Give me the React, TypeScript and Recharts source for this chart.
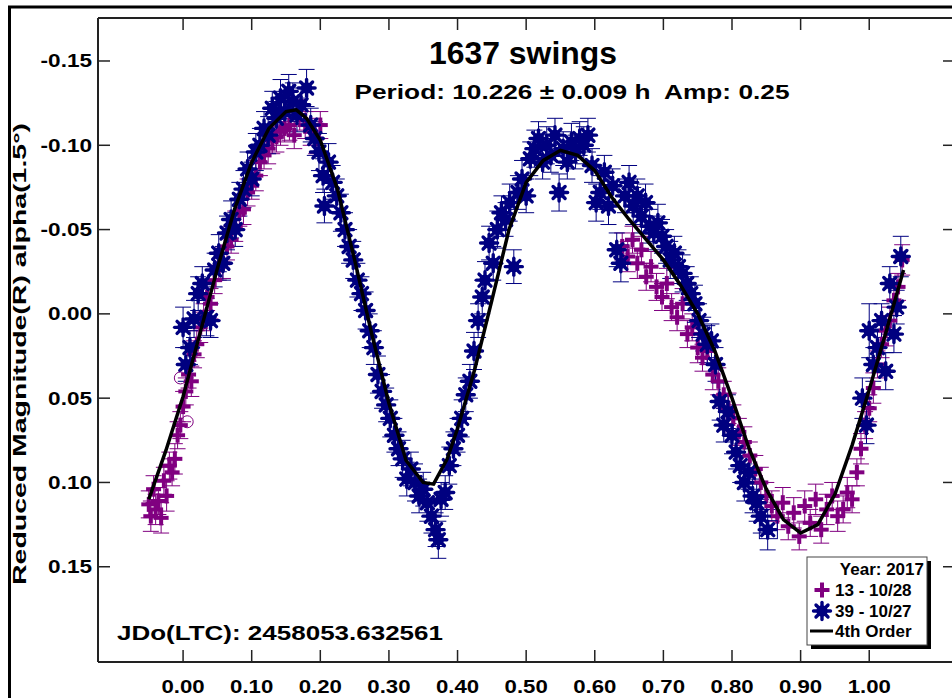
import React from "react";
import { ScatterChart, Scatter, XAxis, YAxis, ErrorBar } from "recharts";

// phase, reduced mag, error  (13 - 10/28)
const PURPLE_1028: [number, number, number][] = [
  [-0.05, 0.113, 0.008], [-0.047, 0.12, 0.009], [-0.043, 0.104, 0.008], [-0.04, 0.116, 0.009],
  [-0.036, 0.111, 0.008], [-0.032, 0.121, 0.009], [-0.028, 0.099, 0.008], [-0.024, 0.108, 0.009],
  [-0.02, 0.09, 0.008], [-0.016, 0.094, 0.008], [-0.012, 0.086, 0.009], [-0.008, 0.072, 0.008],
  [-0.004, 0.066, 0.008], [0.0, 0.055, 0.009], [0.004, 0.046, 0.008], [0.008, 0.036, 0.008],
  [0.012, 0.04, 0.009], [0.016, 0.024, 0.008], [0.02, 0.018, 0.008], [0.025, 0.008, 0.009],
  [0.03, 0.002, 0.008], [0.035, -0.01, 0.008], [0.04, -0.006, 0.009], [0.046, -0.02, 0.008],
  [0.052, -0.028, 0.008], [0.058, -0.03, 0.009], [0.064, -0.04, 0.008], [0.07, -0.044, 0.008],
  [0.076, -0.052, 0.009], [0.082, -0.06, 0.008], [0.088, -0.062, 0.009], [0.094, -0.072, 0.008],
  [0.1, -0.076, 0.008], [0.106, -0.082, 0.009], [0.112, -0.09, 0.008], [0.118, -0.094, 0.008],
  [0.124, -0.098, 0.009], [0.13, -0.103, 0.008], [0.136, -0.105, 0.009], [0.142, -0.108, 0.008],
  [0.148, -0.11, 0.008], [0.155, -0.112, 0.009], [0.162, -0.106, 0.008], [0.17, -0.118, 0.009],
  [0.178, -0.112, 0.008], [0.186, -0.108, 0.008], [0.194, -0.104, 0.009], [0.2, -0.112, 0.008],
  [0.64, -0.04, 0.008], [0.648, -0.034, 0.009], [0.655, -0.044, 0.008], [0.662, -0.03, 0.009],
  [0.668, -0.038, 0.008], [0.675, -0.022, 0.008], [0.682, -0.028, 0.009], [0.69, -0.016, 0.008],
  [0.698, -0.01, 0.008], [0.705, -0.018, 0.009], [0.712, -0.004, 0.008], [0.72, 0.002, 0.008],
  [0.728, -0.006, 0.009], [0.735, 0.012, 0.008], [0.742, 0.008, 0.008], [0.75, 0.02, 0.009],
  [0.757, 0.026, 0.008], [0.764, 0.022, 0.008], [0.772, 0.036, 0.009], [0.78, 0.04, 0.008],
  [0.788, 0.048, 0.008], [0.795, 0.056, 0.009], [0.802, 0.062, 0.008], [0.81, 0.07, 0.008],
  [0.818, 0.076, 0.009], [0.826, 0.084, 0.008], [0.834, 0.092, 0.008], [0.842, 0.1, 0.009],
  [0.85, 0.108, 0.008], [0.858, 0.114, 0.009], [0.866, 0.12, 0.008], [0.874, 0.112, 0.009],
  [0.882, 0.126, 0.008], [0.89, 0.118, 0.009], [0.898, 0.132, 0.008], [0.906, 0.114, 0.009],
  [0.914, 0.124, 0.008], [0.922, 0.11, 0.009], [0.93, 0.128, 0.008], [0.938, 0.116, 0.009],
  [0.946, 0.108, 0.008], [0.954, 0.12, 0.009], [0.962, 0.116, 0.008], [0.968, 0.106, 0.009],
  [0.975, 0.11, 0.008], [0.982, 0.094, 0.008], [0.988, 0.08, 0.009], [0.994, 0.066, 0.008],
  [1.0, 0.056, 0.008], [1.006, 0.044, 0.009], [1.012, 0.03, 0.008], [1.018, 0.018, 0.008],
  [1.024, 0.01, 0.009], [1.03, 0.004, 0.008], [1.036, -0.008, 0.009], [1.042, -0.016, 0.008],
  [1.048, -0.032, 0.009],
];

// phase, reduced mag, error  (39 - 10/27)
const NAVY_1027: [number, number, number][] = [
  [0.0, 0.008, 0.012], [0.004, 0.03, 0.01], [0.01, 0.02, 0.01], [0.016, 0.003, 0.011],
  [0.022, -0.012, 0.01], [0.028, -0.018, 0.01], [0.034, 0.002, 0.011], [0.04, 0.004, 0.01],
  [0.046, -0.026, 0.01], [0.052, -0.036, 0.011], [0.058, -0.03, 0.01], [0.064, -0.048, 0.01],
  [0.07, -0.056, 0.011], [0.076, -0.05, 0.01], [0.082, -0.068, 0.01], [0.088, -0.074, 0.011],
  [0.094, -0.086, 0.01], [0.1, -0.08, 0.01], [0.106, -0.096, 0.011], [0.112, -0.1, 0.01],
  [0.118, -0.11, 0.01], [0.124, -0.106, 0.011], [0.13, -0.122, 0.01], [0.136, -0.116, 0.01],
  [0.142, -0.128, 0.011], [0.148, -0.12, 0.01], [0.154, -0.132, 0.01], [0.16, -0.126, 0.011],
  [0.166, -0.118, 0.01], [0.172, -0.124, 0.01], [0.18, -0.134, 0.011], [0.186, -0.112, 0.01],
  [0.192, -0.104, 0.01], [0.198, -0.096, 0.011], [0.204, -0.082, 0.01], [0.206, -0.064, 0.01],
  [0.212, -0.09, 0.011], [0.218, -0.078, 0.01], [0.224, -0.07, 0.01], [0.23, -0.06, 0.011],
  [0.236, -0.05, 0.01], [0.242, -0.04, 0.01], [0.248, -0.032, 0.011], [0.254, -0.02, 0.01],
  [0.26, -0.012, 0.01], [0.266, -0.002, 0.011], [0.272, 0.01, 0.01], [0.278, 0.02, 0.01],
  [0.284, 0.036, 0.011], [0.29, 0.046, 0.01], [0.296, 0.054, 0.01], [0.302, 0.062, 0.011],
  [0.308, 0.072, 0.01], [0.314, 0.08, 0.01], [0.32, 0.086, 0.011], [0.326, 0.098, 0.01],
  [0.332, 0.092, 0.01], [0.338, 0.1, 0.011], [0.344, 0.108, 0.01], [0.35, 0.104, 0.01],
  [0.356, 0.112, 0.011], [0.362, 0.12, 0.01], [0.368, 0.128, 0.01], [0.372, 0.134, 0.011],
  [0.376, 0.11, 0.01], [0.382, 0.106, 0.01], [0.388, 0.09, 0.011], [0.394, 0.08, 0.01],
  [0.4, 0.072, 0.01], [0.406, 0.062, 0.011], [0.412, 0.048, 0.01], [0.418, 0.04, 0.01],
  [0.424, 0.022, 0.011], [0.43, 0.004, 0.01], [0.436, -0.01, 0.01], [0.44, -0.02, 0.011],
  [0.446, -0.042, 0.01], [0.452, -0.03, 0.01], [0.458, -0.05, 0.011], [0.464, -0.06, 0.01],
  [0.47, -0.056, 0.01], [0.476, -0.066, 0.011], [0.482, -0.028, 0.01], [0.488, -0.072, 0.01],
  [0.494, -0.08, 0.011], [0.5, -0.07, 0.01], [0.506, -0.092, 0.01], [0.512, -0.098, 0.011],
  [0.518, -0.104, 0.01], [0.524, -0.09, 0.01], [0.53, -0.1, 0.011], [0.536, -0.094, 0.01],
  [0.542, -0.106, 0.01], [0.548, -0.072, 0.011], [0.554, -0.098, 0.01], [0.56, -0.09, 0.01],
  [0.566, -0.102, 0.011], [0.572, -0.096, 0.01], [0.578, -0.104, 0.01], [0.584, -0.1, 0.011],
  [0.59, -0.106, 0.01], [0.596, -0.088, 0.01], [0.602, -0.066, 0.011], [0.608, -0.072, 0.01],
  [0.614, -0.084, 0.01], [0.62, -0.064, 0.011], [0.626, -0.076, 0.01], [0.632, -0.038, 0.01],
  [0.638, -0.03, 0.011], [0.644, -0.07, 0.01], [0.65, -0.078, 0.01], [0.656, -0.064, 0.011],
  [0.662, -0.07, 0.01], [0.668, -0.058, 0.01], [0.674, -0.066, 0.011], [0.68, -0.052, 0.01],
  [0.686, -0.048, 0.01], [0.692, -0.054, 0.011], [0.698, -0.046, 0.01], [0.704, -0.04, 0.01],
  [0.71, -0.032, 0.011], [0.716, -0.036, 0.01], [0.722, -0.028, 0.01], [0.728, -0.024, 0.011],
  [0.734, -0.018, 0.01], [0.74, -0.012, 0.01], [0.746, -0.006, 0.011], [0.752, 0.004, 0.01],
  [0.758, 0.012, 0.01], [0.764, 0.018, 0.011], [0.77, 0.016, 0.01], [0.776, 0.03, 0.01],
  [0.782, 0.052, 0.011], [0.788, 0.066, 0.01], [0.794, 0.058, 0.01], [0.8, 0.072, 0.011],
  [0.806, 0.082, 0.01], [0.812, 0.09, 0.01], [0.818, 0.1, 0.011], [0.824, 0.094, 0.01],
  [0.83, 0.108, 0.01], [0.836, 0.112, 0.011], [0.842, 0.12, 0.01], [0.852, 0.128, 0.012],
  [0.99, 0.05, 0.012], [0.996, 0.066, 0.011], [1.0, 0.01, 0.016], [1.006, 0.03, 0.01],
  [1.012, 0.02, 0.011], [1.018, 0.004, 0.01], [1.024, 0.034, 0.011], [1.03, -0.018, 0.01],
  [1.036, 0.012, 0.011], [1.04, -0.004, 0.01], [1.046, -0.034, 0.012],
];

// 4th order Fourier fit
const FIT_X = [
  -0.05, -0.025, 0, 0.025, 0.05, 0.075, 0.1, 0.125, 0.15, 0.165, 0.18, 0.2, 0.225, 0.25, 0.275,
  0.3, 0.325, 0.35, 0.365, 0.385, 0.4, 0.425, 0.45, 0.475, 0.5, 0.525, 0.55, 0.575, 0.6, 0.625,
  0.65, 0.675, 0.7, 0.725, 0.75, 0.775, 0.8, 0.825, 0.85, 0.875, 0.9, 0.925, 0.95, 0.975, 1.0,
  1.025, 1.05,
];
const FIT_Y = [
  0.11, 0.081, 0.049, 0.011, -0.027, -0.062, -0.09, -0.11, -0.12, -0.121, -0.116, -0.103, -0.074,
  -0.032, 0.012, 0.053, 0.087, 0.1, 0.101, 0.086, 0.068, 0.033, -0.008, -0.05, -0.078, -0.091,
  -0.097, -0.094, -0.085, -0.069, -0.056, -0.044, -0.032, -0.017, 0.0, 0.022, 0.05, 0.08, 0.104,
  0.122, 0.13, 0.125, 0.107, 0.078, 0.045, 0.01, -0.026,
];

// circled / boxed points
const FLAGGED_CIRCLE: [number, number][] = [[-0.004, 0.038], [0.006, 0.064]];
const FLAGGED_BOX: [number, number][] = [[0.853, 0.128]];

const X_TICKS = [0, 0.1, 0.2, 0.3, 0.4, 0.5, 0.6, 0.7, 0.8, 0.9, 1.0];
const X_TICK_LABELS = ["0.00", "0.10", "0.20", "0.30", "0.40", "0.50", "0.60", "0.70", "0.80", "0.90", "1.00"];
const Y_TICKS = [-0.15, -0.1, -0.05, 0, 0.05, 0.1, 0.15];
const Y_TICK_LABELS = ["-0.15", "-0.10", "-0.05", "0.00", "0.05", "0.10", "0.15"];

const PURPLE = "#800080";
const NAVY = "#000080";
const FONT = "'Liberation Sans', Arial, Helvetica, sans-serif";

const PLOT = { left: 98, top: 18, right: 955, bottom: 662 };

const purpleData = PURPLE_1028.map(([x, y, e]) => ({ x, y, e }));
const navyData = NAVY_1027.map(([x, y, e]) => ({ x, y, e }));
const fitData = FIT_X.map((x, i) => ({ x, y: FIT_Y[i] }));
const circleData = FLAGGED_CIRCLE.map(([x, y]) => ({ x, y }));
const boxData = FLAGGED_BOX.map(([x, y]) => ({ x, y }));

function PlusMark({ cx, cy }: any) {
  if (cx == null || cy == null) return <g />;
  return (
    <g stroke={PURPLE} strokeWidth={4}>
      <line x1={cx - 7.5} x2={cx + 7.5} y1={cy} y2={cy} />
      <line x1={cx} x2={cx} y1={cy - 7.5} y2={cy + 7.5} />
    </g>
  );
}

function StarMark({ cx, cy }: any) {
  if (cx == null || cy == null) return <g />;
  const r = 8.5;
  const d = r * 0.707;
  return (
    <g stroke={NAVY} strokeWidth={3.4} strokeLinecap="round">
      <line x1={cx - r} x2={cx + r} y1={cy} y2={cy} />
      <line x1={cx} x2={cx} y1={cy - r} y2={cy + r} />
      <line x1={cx - d} x2={cx + d} y1={cy - d} y2={cy + d} />
      <line x1={cx - d} x2={cx + d} y1={cy + d} y2={cy - d} />
      <circle cx={cx} cy={cy} r={4} fill={NAVY} />
    </g>
  );
}

function XTick({ x, index }: any) {
  return (
    <g>
      <line x1={x} x2={x} y1={PLOT.bottom - 12} y2={PLOT.bottom} stroke="#222" strokeWidth={1.5} />
      <line x1={x} x2={x} y1={PLOT.top} y2={PLOT.top + 12} stroke="#222" strokeWidth={1.5} />
      <text
        transform={`translate(${x},693) scale(1.2,1)`}
        textAnchor="middle"
        fontFamily={FONT}
        fontWeight={700}
        fontSize={18.5}
        fill="#000"
      >
        {X_TICK_LABELS[index]}
      </text>
    </g>
  );
}

function YTick({ y, index }: any) {
  return (
    <g>
      <line x1={PLOT.left} x2={PLOT.left + 12} y1={y} y2={y} stroke="#222" strokeWidth={1.5} />
      <line x1={PLOT.right - 12} x2={PLOT.right} y1={y} y2={y} stroke="#222" strokeWidth={1.5} />
      <text
        transform={`translate(92,${y + 6.5}) scale(1.22,1)`}
        textAnchor="end"
        fontFamily={FONT}
        fontWeight={700}
        fontSize={18.5}
        fill="#000"
      >
        {Y_TICK_LABELS[index]}
      </text>
    </g>
  );
}

function Overlay() {
  const t = { fontFamily: FONT, fontWeight: 700, fill: "#000" } as const;
  return (
    <svg
      width={952}
      height={698}
      style={{ position: "absolute", left: 0, top: 0, pointerEvents: "none" }}
    >
      {/* outer frame */}
      <rect x={9.5} y={7} width={980} height={740} fill="none" stroke="#000" strokeWidth={3} />
      {/* plot frame top/right */}
      <line x1={PLOT.left} x2={PLOT.right} y1={PLOT.top} y2={PLOT.top} stroke="#222" strokeWidth={2} />
      <line x1={PLOT.right} x2={PLOT.right} y1={PLOT.top} y2={PLOT.bottom} stroke="#222" strokeWidth={2} />

      <text {...t} x={523} y={64} fontSize={31} textAnchor="middle" textLength={188} lengthAdjust="spacingAndGlyphs">
        1637 swings
      </text>
      <text
        {...t}
        x={572}
        y={99}
        fontSize={20.5}
        textAnchor="middle"
        textLength={435}
        lengthAdjust="spacingAndGlyphs"
        style={{ whiteSpace: "pre" }}
      >
        {"Period: 10.226 \u00b1 0.009 h  Amp: 0.25"}
      </text>
      <text {...t} x={117} y={640} fontSize={20.5} textLength={326} lengthAdjust="spacingAndGlyphs">
        JDo(LTC): 2458053.632561
      </text>
      <text
        {...t}
        transform="translate(26,354) rotate(-90)"
        fontSize={19}
        textAnchor="middle"
        textLength={462}
        lengthAdjust="spacingAndGlyphs"
      >
        Reduced Magnitude(R) alpha(1.5°)
      </text>

      {/* legend */}
      <rect x={811} y={561} width={120} height={88} fill="#000" />
      <rect x={807} y={557} width={120} height={88} fill="#fff" stroke="#444" strokeWidth={1} />
      <text {...t} x={924} y={575} fontSize={17} textAnchor="end">
        Year: 2017
      </text>
      <PlusMark cx={822} cy={590} />
      <text {...t} x={835} y={596} fontSize={17}>
        13 - 10/28
      </text>
      <StarMark cx={822} cy={611} />
      <text {...t} x={835} y={617} fontSize={17}>
        39 - 10/27
      </text>
      <line x1={810} x2={833} y1={631} y2={631} stroke="#000" strokeWidth={3} />
      <text {...t} x={835} y={637} fontSize={17}>
        4th Order
      </text>
    </svg>
  );
}

export default function App() {
  return (
    <div
      style={{
        position: "absolute",
        left: 0,
        top: 0,
        width: 952,
        height: 698,
        overflow: "hidden",
        background: "#fff",
      }}
    >
      <ScatterChart width={960} height={698} margin={{ top: 18, right: 5, bottom: 0, left: 0 }}>
        <XAxis
          type="number"
          dataKey="x"
          domain={[-0.124, 1.125]}
          ticks={X_TICKS}
          interval={0}
          allowDataOverflow
          height={36}
          tickLine={false}
          axisLine={{ stroke: "#222", strokeWidth: 2 }}
          tick={<XTick />}
        />
        <YAxis
          type="number"
          dataKey="y"
          domain={[-0.1755, 0.2065]}
          reversed
          ticks={Y_TICKS}
          interval={0}
          allowDataOverflow
          width={98}
          tickLine={false}
          axisLine={{ stroke: "#222", strokeWidth: 2 }}
          tick={<YTick />}
        />
        <Scatter data={purpleData} shape={<PlusMark />} isAnimationActive={false}>
          <ErrorBar dataKey="e" direction="y" width={8} stroke={PURPLE} strokeWidth={1} />
        </Scatter>
        <Scatter data={navyData} shape={<StarMark />} isAnimationActive={false}>
          <ErrorBar dataKey="e" direction="y" width={8} stroke={NAVY} strokeWidth={1} />
        </Scatter>
        <Scatter
          data={circleData}
          isAnimationActive={false}
          shape={(p: any) => <circle cx={p.cx} cy={p.cy} r={6} fill="none" stroke={PURPLE} strokeWidth={1} />}
        />
        <Scatter
          data={boxData}
          isAnimationActive={false}
          shape={(p: any) => (
            <rect x={p.cx - 9} y={p.cy - 9} width={18} height={18} fill="none" stroke={NAVY} strokeWidth={1} />
          )}
        />
        <Scatter
          data={fitData}
          isAnimationActive={false}
          line={{ stroke: "#000", strokeWidth: 3.5 }}
          lineType="joint"
          shape={() => <g />}
        />
      </ScatterChart>
      <Overlay />
    </div>
  );
}
